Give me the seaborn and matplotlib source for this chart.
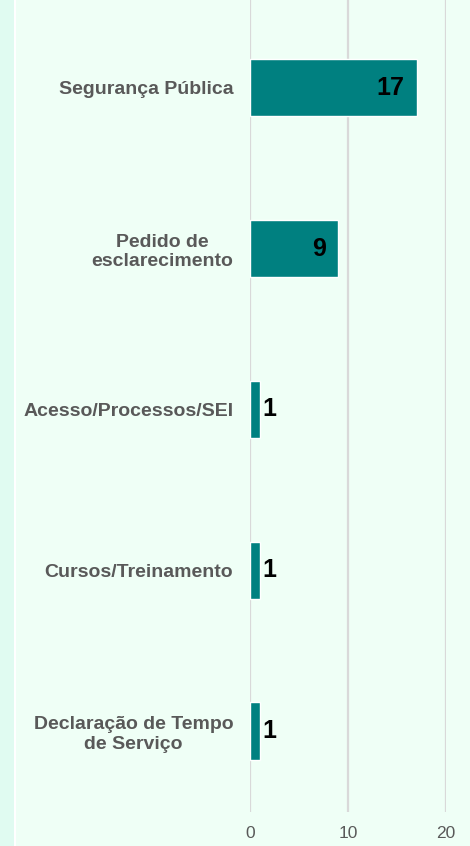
import matplotlib
matplotlib.use("Agg")
import matplotlib.pyplot as plt
import seaborn as sns
import pandas as pd
from matplotlib.patches import Rectangle

categories = [
    "Segurança Pública",
    "Pedido de\nesclarecimento",
    "Acesso/Processos/SEI",
    "Cursos/Treinamento",
    "Declaração de Tempo\nde Serviço",
]
counts = [17, 9, 1, 1, 1]
x_ticks = [0, 10, 20]

bg = "#effff6"
teal = "#008080"
gray_txt = "#595959"

df = pd.DataFrame({"categoria": categories, "total": counts})

sns.set_style("white")
plt.rcParams["font.family"] = ["Liberation Sans", "DejaVu Sans"]

fig = plt.figure(figsize=(4.7, 8.46), dpi=100)
fig.patch.set_facecolor(bg)
# faixa clara na borda esquerda
fig.patches.append(Rectangle((0, 0), 14 / 470, 1, transform=fig.transFigure,
                             facecolor="#e0fbf1", edgecolor="none", zorder=0))
fig.patches.append(Rectangle((14 / 470, 0), 2 / 470, 1, transform=fig.transFigure,
                             facecolor="#ffffff", edgecolor="none", zorder=0))

ax = fig.add_axes([250 / 470, 1 - 812 / 846, 196 / 470, 812 / 846])
ax.set_facecolor("none")

sns.barplot(data=df, y="categoria", x="total", orient="h", color=teal,
            saturation=1, width=0.355, ax=ax, zorder=3)

ax.set_xlim(0, 20)
ax.set_ylim(4.504, -0.547)
ax.set_xticks(x_ticks)
ax.xaxis.grid(True, color="#d9d9d9", linewidth=1.6, zorder=0)
ax.set_axisbelow(True)
for s in ax.spines.values():
    s.set_visible(False)
ax.set_xlabel("")
ax.set_ylabel("")
ax.tick_params(axis="both", length=0)
ax.tick_params(axis="x", pad=10, labelsize=12.5, labelcolor=gray_txt)
ax.tick_params(axis="y", pad=12)
for lab in ax.get_yticklabels():
    lab.set_fontsize(14)
    lab.set_fontweight("bold")
    lab.set_color(gray_txt)
    lab.set_multialignment("center")

for i, v in enumerate(counts):
    if v > 3:
        ax.annotate(str(v), xy=(v, i), xytext=(-8.5, 0), textcoords="offset points",
                    ha="right", va="center", fontsize=18, fontweight="bold",
                    color="black", zorder=5)
    else:
        ax.annotate(str(v), xy=(v, i), xytext=(2, 0), textcoords="offset points",
                    ha="left", va="center", fontsize=18, fontweight="bold",
                    color="black", zorder=5)

fig.savefig("out.png", dpi=100, facecolor=bg)
